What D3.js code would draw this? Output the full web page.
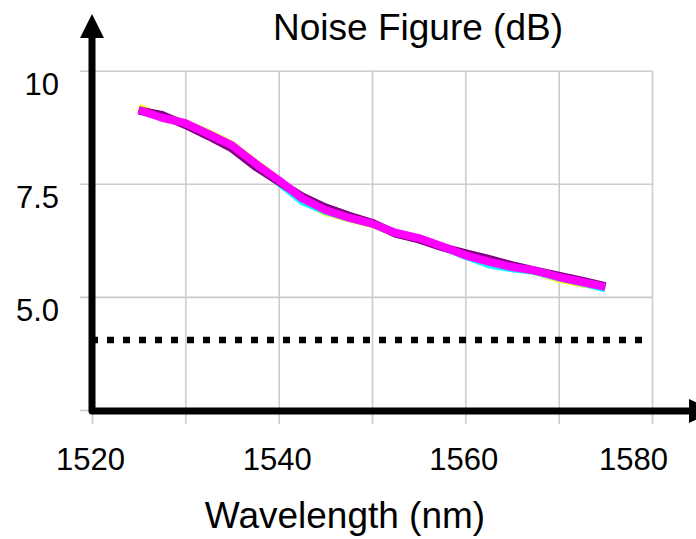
<!DOCTYPE html>
<html>
<head>
<meta charset="utf-8">
<script src="https://cdn.jsdelivr.net/npm/d3@7"></script>
<style>
  body { margin: 0; background: #fff; }
  text { font-family: "Liberation Sans", Arial, sans-serif; fill: #000; }
</style>
</head>
<body>
<script>
// wavelengths (nm) and noise figure (dB) for the four traces
var wavelengths = [1525, 1527.5, 1530, 1532.5, 1535, 1537.5, 1540, 1542.5, 1545, 1547.5, 1550,
                   1552.5, 1555, 1557.5, 1560, 1562.5, 1565, 1567.5, 1570, 1572.5, 1575];
var nfYellow  = [9.18, 8.97, 8.84, 8.62, 8.36, 7.96, 7.57, 7.15, 6.88, 6.74, 6.61,
                 6.41, 6.29, 6.11, 5.91, 5.76, 5.65, 5.57, 5.40, 5.30, 5.21];
var nfCyan    = [9.13, 8.98, 8.83, 8.60, 8.34, 7.93, 7.54, 7.12, 6.90, 6.75, 6.62,
                 6.42, 6.29, 6.11, 5.91, 5.72, 5.63, 5.57, 5.43, 5.32, 5.19];
var nfPurple  = [9.12, 9.02, 8.80, 8.55, 8.28, 7.88, 7.55, 7.22, 6.98, 6.80, 6.64,
                 6.40, 6.27, 6.10, 5.97, 5.84, 5.70, 5.58, 5.47, 5.36, 5.24];
var nfMagenta = [9.13, 8.96, 8.84, 8.60, 8.35, 7.95, 7.58, 7.18, 6.92, 6.75, 6.62,
                 6.42, 6.30, 6.12, 5.92, 5.78, 5.66, 5.58, 5.44, 5.33, 5.22];
var seriesColors = ["#ffff00", "#00ffff", "#800080", "#ff00ff"];

// reference level (dotted line)
var refLevel = 4.05;
var refRange = [1520, 1579];

var xTicks = [1520, 1530, 1540, 1550, 1560, 1570, 1580];
var xTickLabels = ["1520", "", "1540", "", "1560", "", "1580"];
var yTicks = [2.5, 5, 7.5, 10];
var yTickLabels = ["", "5.0", "7.5", "10"];

var width = 696, height = 539;

const svg = d3.select("body")
    .append("svg")
    .attr("width", width)
    .attr("height", height);

var x = d3.scaleLinear().domain([1520, 1580]).range([92, 652]);
var y = d3.scaleLinear().domain([2.5, 10]).range([410, 70.7]);

// grid + ticks
var yAxis = svg.append("g")
    .attr("transform", "translate(80,0)")
    .call(d3.axisLeft(y)
        .tickValues(yTicks)
        .tickSize(-(652 - 80))
        .tickPadding(21)
        .tickFormat(function (d, i) { return yTickLabels[i]; }));

var xAxis = svg.append("g")
    .attr("transform", "translate(0,424)")
    .call(d3.axisBottom(x)
        .tickValues(xTicks)
        .tickSize(-(424 - 70.7))
        .tickFormat(function (d, i) { return xTickLabels[i]; }));

[yAxis, xAxis].forEach(function (g) {
    g.select(".domain").remove();
    g.selectAll(".tick line")
        .attr("stroke", "#cccccc")
        .attr("stroke-width", 1.6);
    g.selectAll(".tick text")
        .style("font-size", "31px")
        .style("font-family", "'Liberation Sans', Arial, sans-serif");
});

yAxis.selectAll(".tick text").attr("dy", 24);
xAxis.selectAll(".tick text")
    .attr("y", 46)
    .attr("dy", 0)
    .attr("dx", function (d) { return d === 1580 ? -19 : -2; });

// dotted reference line
svg.append("line")
    .attr("x1", x(refRange[0]) - 1)
    .attr("x2", x(refRange[1]))
    .attr("y1", y(refLevel))
    .attr("y2", y(refLevel))
    .attr("stroke", "#000")
    .attr("stroke-width", 6.5)
    .attr("stroke-dasharray", "7,9");

// traces
var line = d3.line()
    .x(function (d) { return x(d[0]); })
    .y(function (d) { return y(d[1]); });

[nfYellow, nfCyan, nfPurple, nfMagenta].forEach(function (vals, i) {
    svg.append("path")
        .datum(wavelengths.map(function (w, j) { return [w, vals[j]]; }))
        .attr("fill", "none")
        .attr("stroke", seriesColors[i])
        .attr("stroke-width", 8)
        .attr("stroke-linejoin", "round")
        .attr("d", line);
});

// heavy axes with arrow heads
svg.append("path")
    .attr("d", "M92,38 L92,411 L690,411")
    .attr("fill", "none")
    .attr("stroke", "#000")
    .attr("stroke-width", 7)
    .attr("stroke-linejoin", "round");

svg.append("path")
    .attr("d", "M92,14 L80,38 L104,38 Z")
    .attr("fill", "#000");
svg.append("path")
    .attr("d", "M714,411 L689,399 L689,423 Z")
    .attr("fill", "#000");

// titles
svg.append("text")
    .attr("x", 418)
    .attr("y", 40)
    .attr("text-anchor", "middle")
    .style("font-size", "37px")
    .text("Noise Figure (dB)");

svg.append("text")
    .attr("x", 345)
    .attr("y", 528)
    .attr("text-anchor", "middle")
    .style("font-size", "37px")
    .text("Wavelength (nm)");
</script>
</body>
</html>
